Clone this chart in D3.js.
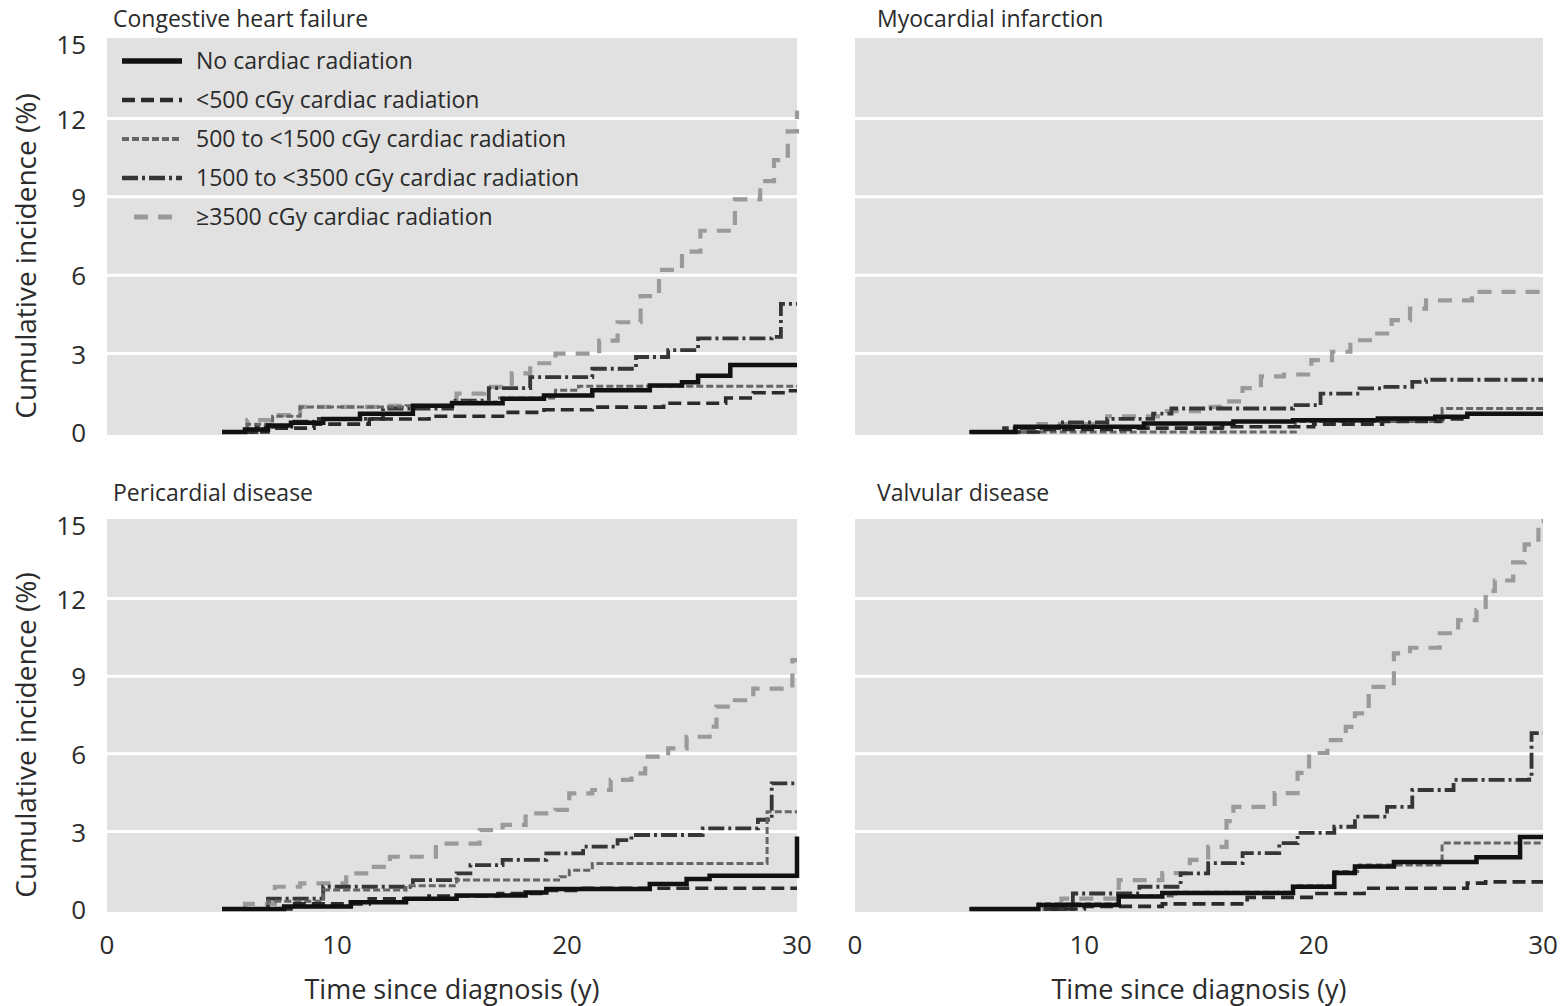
<!DOCTYPE html>
<html>
<head>
<meta charset="utf-8">
<script src="https://cdn.jsdelivr.net/npm/d3@7"></script>
<style>
  body { margin: 0; background: #fff; }
  svg text { font-family: "Open Sans", Lato, sans-serif; fill: #2b2b2b; }
</style>
</head>
<body>
<div id="chart"></div>
<script>
// series labels, in legend order
const seriesNames = [
  'No cardiac radiation',
  '<500 cGy cardiac radiation',
  '500 to <1500 cGy cardiac radiation',
  '1500 to <3500 cGy cardiac radiation',
  '\u22653500 cGy cardiac radiation'
];
const panelTitles = ['Congestive heart failure', 'Myocardial infarction', 'Pericardial disease', 'Valvular disease'];
const yTicks = [0, 3, 6, 9, 12, 15];
const xTicks = [0, 10, 20, 30];

// step points [years, cumulative %]
const chfNone = [[5,0],[6,0.1],[7,0.25],[8,0.35],[9.4,0.5],[11,0.7],[13.3,1.0],[15,1.1],[17.2,1.27],[19,1.4],[21.1,1.6],[23.6,1.78],[25,1.9],[25.7,2.15],[27.1,2.56],[30,2.56]];
const chf500 = [[5,0],[7,0.15],[9,0.3],[11.4,0.5],[14,0.6],[17.2,0.75],[19,0.85],[21.1,0.95],[24.2,1.1],[26.9,1.3],[28.1,1.5],[29.5,1.58],[30,1.58]];
const chf1500 = [[5,0],[6.1,0.3],[7.2,0.6],[8.4,0.96],[13,1.0],[15,1.15],[17,1.3],[19.5,1.6],[20.5,1.75],[30,1.75]];
const chf3500 = [[5,0],[6.5,0.2],[8,0.4],[9,0.5],[12,0.9],[15,1.2],[16.6,1.68],[18.4,2.1],[21.1,2.42],[23,2.87],[24.4,3.13],[25.7,3.58],[28.9,3.64],[29.3,4.9],[30,4.9]];
const chfHigh = [[5,0],[6.1,0.46],[7.1,0.65],[8.4,0.96],[12,1.0],[15.2,1.47],[16.4,1.73],[17.6,2.24],[18.4,2.63],[19.5,3.0],[21.4,3.5],[22.2,4.2],[23.2,5.2],[24,6.2],[25,6.9],[25.8,7.7],[27.3,8.9],[28.4,9.6],[29,10.4],[29.6,11.5],[30,12.3]];

const miNone = [[5,0],[7,0.2],[12.6,0.33],[16.5,0.4],[19.1,0.45],[22.8,0.52],[25.3,0.58],[26.7,0.7],[30,0.7]];
const mi500 = [[5,0],[8,0.1],[12,0.15],[16,0.2],[20,0.3],[23,0.4],[25.5,0.5],[26.7,0.68],[30,0.68]];
const mi1500 = [[5,0],[19.1,0],[19.2,0.4],[25.5,0.4],[25.6,0.9],[30,0.9]];
const mi3500 = [[5,0],[6.5,0.15],[8.9,0.37],[11,0.5],[13,0.7],[13.8,0.9],[19.1,1.03],[20.3,1.47],[22,1.67],[23,1.73],[24.3,1.92],[24.9,2.0],[30,2.0]];
const miHigh = [[5,0],[8,0.3],[11,0.6],[13.5,0.8],[15,0.96],[16,1.17],[16.9,1.68],[17.7,2.13],[18.7,2.2],[19.9,2.75],[20.8,3.07],[21.6,3.51],[22.6,3.77],[23.4,4.28],[24.2,4.72],[24.9,5.04],[26.9,5.36],[30,5.36]];

const pcNone = [[5,0],[7.7,0.1],[10.6,0.26],[13,0.4],[15.2,0.52],[18.2,0.64],[19.1,0.77],[23.6,0.97],[25.2,1.16],[26.2,1.29],[29.9,1.29],[30,2.8]];
const pc500 = [[5,0],[8,0.2],[11.4,0.39],[14,0.5],[17,0.6],[19.1,0.72],[20.5,0.8],[30,0.8]];
const pc1500 = [[5,0],[7,0.3],[9.4,0.73],[13,0.9],[15.2,1.12],[19.7,1.25],[20.1,1.5],[21.1,1.76],[28.6,1.76],[28.7,3.76],[30,3.76]];
const pc3500 = [[5,0],[7,0.4],[9.4,0.86],[13.3,1.12],[15.2,1.38],[15.8,1.7],[17.2,1.9],[19.1,2.15],[20.7,2.41],[22.2,2.66],[22.8,2.86],[25.9,3.12],[28.3,3.45],[28.9,4.86],[30,4.86]];
const pcHigh = [[5,0],[6,0.2],[7.3,0.86],[8.4,0.99],[10.4,1.38],[11.4,1.63],[12.3,2.02],[14.3,2.53],[16.2,3.05],[17.2,3.25],[18.2,3.7],[19.5,3.83],[20.1,4.47],[21.1,4.6],[21.9,4.99],[22.8,5.24],[23.4,5.89],[24.4,6.21],[25.2,6.66],[26.2,7.05],[26.5,7.82],[27.3,8.07],[28.1,8.52],[29.8,9.62],[30,9.62]];

const vdNone = [[5,0],[8,0.15],[11.5,0.48],[13.4,0.62],[19.1,0.86],[20.9,1.39],[21.8,1.64],[23.5,1.82],[27.1,2.0],[29,2.78],[30,2.78]];
const vd500 = [[5,0],[10,0.1],[13.4,0.2],[17.1,0.45],[20,0.6],[22.2,0.8],[26.7,1.0],[27.5,1.05],[30,1.05]];
const vd1500 = [[5,0],[8,0.2],[11.5,0.5],[14,0.65],[19.1,0.9],[20.9,1.45],[22,1.7],[25.5,1.75],[25.6,2.55],[30,2.55]];
const vd3500 = [[5,0],[9.5,0.6],[12.4,0.86],[14.2,1.38],[15.4,1.77],[16.9,2.16],[18.5,2.55],[19.3,2.94],[20.9,3.18],[21.8,3.57],[23.2,3.95],[24.3,4.6],[26.1,4.99],[29.4,5.1],[29.5,6.8],[30,6.8]];
const vdHigh = [[5,0],[9,0.4],[11.5,1.12],[13.4,1.39],[14.6,1.9],[15.4,2.4],[16.2,3.4],[16.5,3.95],[18.3,4.48],[19.3,5.26],[19.8,6.03],[20.6,6.53],[21.4,7.04],[21.8,7.56],[22.4,8.59],[23.5,9.88],[24.2,10.1],[25.5,10.66],[26.3,11.17],[27.1,11.56],[27.5,12.3],[27.9,12.7],[28.7,13.4],[29.2,14.1],[29.8,15.0],[30,15.0]];

const styles = [
  { color: '#111', width: 4.5, dash: null },
  { color: '#2a2a2a', width: 3.6, dash: '13,6' },
  { color: '#666', width: 3, dash: '7,3' },
  { color: '#363636', width: 3.8, dash: '16,4,3,4' },
  { color: '#9a9a9a', width: 4.2, dash: '14,10' }
];

const panels = [
  { title: panelTitles[0], data: [chfNone, chf500, chf1500, chf3500, chfHigh], x0: 107, x1: 797, y0: 432, y1: 40, tx: 113, ty: 27, left: true, bottom: false, legend: true },
  { title: panelTitles[1], data: [miNone, mi500, mi1500, mi3500, miHigh], x0: 855, x1: 1543, y0: 432, y1: 40, tx: 877, ty: 27, left: false, bottom: false },
  { title: panelTitles[2], data: [pcNone, pc500, pc1500, pc3500, pcHigh], x0: 107, x1: 797, y0: 909, y1: 521, tx: 113, ty: 501, left: true, bottom: true },
  { title: panelTitles[3], data: [vdNone, vd500, vd1500, vd3500, vdHigh], x0: 855, x1: 1543, y0: 909, y1: 521, tx: 877, ty: 501, left: false, bottom: true }
];

const svg = d3.select('#chart').append('svg')
  .attr('width', 1565)
  .attr('height', 1006);

panels.forEach((p) => {
  const x = d3.scaleLinear().domain([0, 30]).range([p.x0, p.x1]);
  const y = d3.scaleLinear().domain([0, 15]).range([p.y0, p.y1]);
  const g = svg.append('g');

  g.append('rect')
    .attr('x', p.x0).attr('y', y(15) - 2)
    .attr('width', p.x1 - p.x0).attr('height', y(0) - y(15) + 5)
    .attr('fill', '#e1e1e1');

  g.selectAll('.grid').data(yTicks.filter(d => d > 0 && d < 15)).enter()
    .append('line')
    .attr('x1', p.x0).attr('x2', p.x1)
    .attr('y1', d => y(d)).attr('y2', d => y(d))
    .attr('stroke', '#fff').attr('stroke-width', 3);

  g.append('text')
    .attr('x', p.tx).attr('y', p.ty)
    .attr('font-size', 23)
    .text(p.title);

  if (p.left) {
    g.selectAll('.ytick').data(yTicks).enter()
      .append('text')
      .attr('x', p.x0 - 21).attr('y', d => y(d) + (d === 15 ? 5 : 1))
      .attr('dy', '0.35em')
      .attr('text-anchor', 'end')
      .attr('font-size', 26)
      .text(d => d);
    g.append('text')
      .attr('transform', `translate(36, ${(y(0) + y(15)) / 2 + 20}) rotate(-90)`)
      .attr('text-anchor', 'middle')
      .attr('font-size', 28)
      .text('Cumulative incidence (%)');
  }

  if (p.bottom) {
    g.selectAll('.xtick').data(xTicks).enter()
      .append('text')
      .attr('x', d => x(d)).attr('y', y(0) + 45)
      .attr('text-anchor', 'middle')
      .attr('font-size', 26)
      .text(d => d);
    g.append('text')
      .attr('x', (p.x0 + p.x1) / 2).attr('y', y(0) + 90)
      .attr('text-anchor', 'middle')
      .attr('font-size', 27)
      .text('Time since diagnosis (y)');
  }

  const line = d3.line()
    .x(d => x(d[0]))
    .y(d => y(d[1]))
    .curve(d3.curveStepAfter);

  // draw lightest first so the black ones sit on top
  [4, 3, 2, 1, 0].forEach((i) => {
    const s = styles[i];
    g.append('path')
      .datum(p.data[i])
      .attr('d', line)
      .attr('fill', 'none')
      .attr('stroke', s.color)
      .attr('stroke-width', s.width)
      .attr('stroke-dasharray', s.dash);
  });

  if (p.legend) {
    const lg = g.append('g');
    seriesNames.forEach((name, i) => {
      const s = styles[i];
      const ly = 61 + i * 39;
      const lx0 = i === 4 ? 134 : 122;
      lg.append('line')
        .attr('x1', lx0).attr('x2', 182)
        .attr('y1', ly).attr('y2', ly)
        .attr('stroke', s.color)
        .attr('stroke-width', s.width + 0.8)
        .attr('stroke-dasharray', s.dash);
      lg.append('text')
        .attr('x', 196).attr('y', ly)
        .attr('dy', '0.35em')
        .attr('font-size', 23)
        .text(name);
    });
  }
});
</script>
</body>
</html>
